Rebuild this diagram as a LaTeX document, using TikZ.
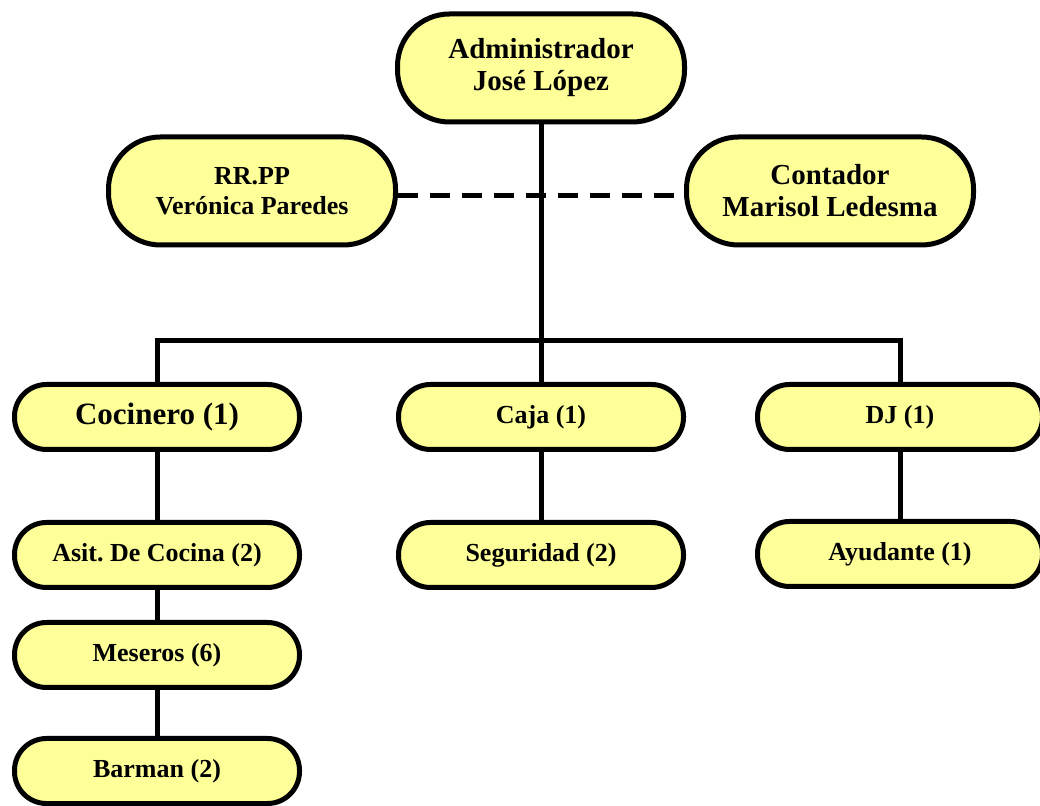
\documentclass[tikz,border=0pt]{standalone}
\usepackage{fontspec}
\setmainfont{Liberation Serif}
\usepackage{tikz}
\usetikzlibrary{positioning}
\definecolor{cajayellow}{RGB}{255,255,153}

\begin{document}
\begin{tikzpicture}[x=1pt,y=1pt,every node/.style={draw=black,line width=5pt,fill=cajayellow,align=center},
  puesto/.style={minimum width=285pt,minimum height=65pt,rounded corners=32pt,font=\bfseries\fontsize{26}{30}\selectfont},
  jefe/.style={minimum width=287pt,minimum height=108pt,rounded corners=52pt,font=\bfseries\fontsize{29}{32}\selectfont},
  linea/.style={line width=5pt}]
  \useasboundingbox (0,0) rectangle (1040,805);
  \node[jefe](admin) at (541,737) {Administrador\\José López};
  \node[jefe,font=\bfseries\fontsize{26}{30}\selectfont](rrpp) at (252,614) {RR.PP\\Verónica Paredes};
  \node[jefe](conta) at (830,614) {Contador\\Marisol Ledesma};
  \node[puesto,font=\bfseries\fontsize{31}{34}\selectfont](coc) at (157,388) {Cocinero (1)};
  \node[puesto,node distance=384pt](caja) [right of=coc] {Caja (1)};
  \node[puesto,node distance=359pt](dj) [right of=caja] {DJ (1)};
  \node[puesto,node distance=138pt](asit) [below of=coc] {Asit.\ De Cocina (2)};
  \node[puesto,node distance=138pt](seg) [below of=caja] {Seguridad (2)};
  \node[puesto,node distance=137pt](ayud) [below of=dj] {Ayudante (1)};
  \node[puesto,node distance=100pt](meseros) [below of=asit] {Meseros (6)};
  \node[puesto,node distance=116pt](barman) [below of=meseros] {Barman (2)};
  \coordinate (bus) at (541,464);
  \draw[linea,dash pattern=on 20pt off 12pt] ([yshift=-5pt]rrpp.east)--([yshift=-5pt]conta.west);
  \draw[linea] (admin)--(caja);
  \draw[linea] (coc.north) |- (bus) -| (dj.north);
  \draw[linea] (coc)--(asit);
  \draw[linea] (asit)--(meseros);
  \draw[linea] (meseros)--(barman);
  \draw[linea] (caja)--(seg);
  \draw[linea] (dj)--(ayud);
\end{tikzpicture}
\end{document}
